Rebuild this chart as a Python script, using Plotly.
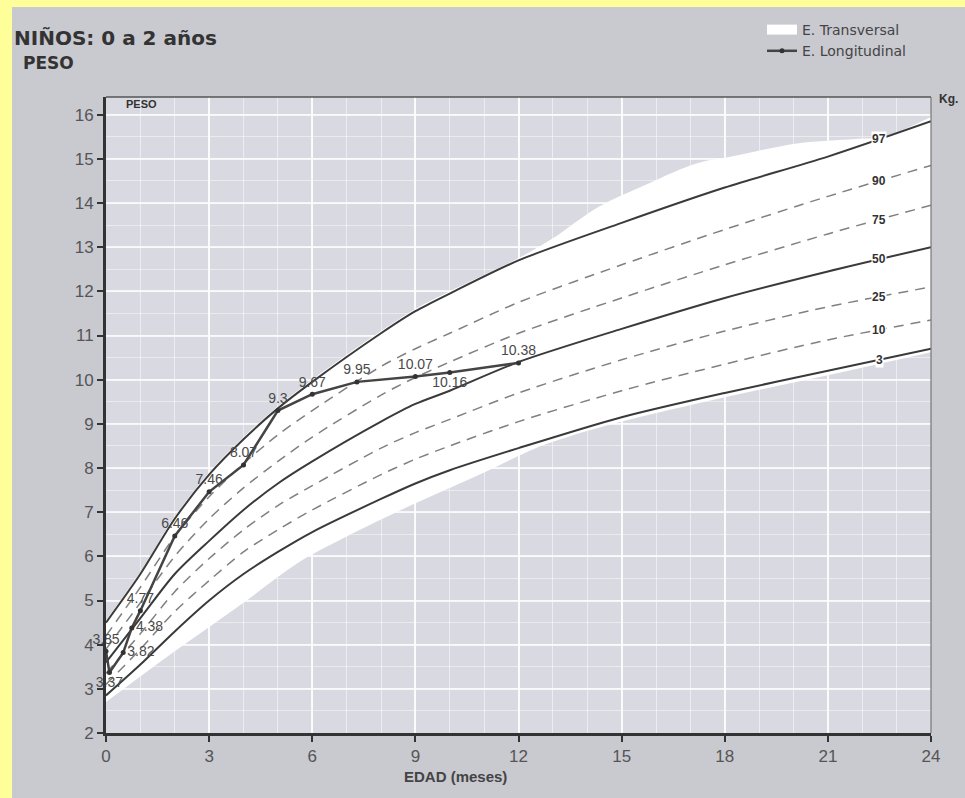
import numpy as np
import plotly.graph_objects as go

# ---------------- data ----------------
months = [0, 1, 2, 3, 4, 5, 6, 8, 9, 10, 12, 15, 18, 21, 24]
p97 = [4.5, 5.6, 6.85, 7.85, 8.65, 9.35, 9.95, 11.05, 11.55, 11.95, 12.7, 13.55, 14.35, 15.05, 15.85]
p90 = [4.2, 5.3, 6.45, 7.35, 8.1, 8.75, 9.3, 10.3, 10.7, 11.05, 11.75, 12.6, 13.4, 14.15, 14.85]
p75 = [3.9, 4.95, 6.0, 6.85, 7.55, 8.15, 8.7, 9.65, 10.05, 10.4, 11.05, 11.85, 12.6, 13.3, 13.95]
p50 = [3.6, 4.6, 5.6, 6.35, 7.05, 7.65, 8.15, 9.05, 9.45, 9.75, 10.4, 11.15, 11.85, 12.45, 13.0]
p25 = [3.35, 4.25, 5.2, 5.95, 6.6, 7.15, 7.6, 8.45, 8.8, 9.1, 9.7, 10.45, 11.1, 11.65, 12.1]
p10 = [3.1, 3.9, 4.75, 5.45, 6.1, 6.6, 7.05, 7.85, 8.2, 8.5, 9.05, 9.75, 10.35, 10.9, 11.35]
p3 = [2.85, 3.55, 4.3, 5.0, 5.6, 6.1, 6.55, 7.3, 7.65, 7.95, 8.45, 9.15, 9.7, 10.2, 10.7]
pct_labels = ["97", "90", "75", "50", "25", "10", "3"]

# E. Transversal band (white area)
band_up_x = [0, 1, 2, 3, 4, 5, 6, 8, 9, 10, 12, 13, 14.3, 15.8, 17.2, 18.2, 20.1, 21.8, 22.6, 24]
band_up_y = [4.55, 5.65, 6.9, 7.9, 8.7, 9.4, 10.0, 11.1, 11.6, 12.0, 12.75, 13.2, 13.9, 14.45, 14.9, 15.05, 15.35, 15.45, 15.5, 15.95]
band_lo_x = [0, 2, 4, 5.6, 7, 9, 11, 12.5, 13.5, 15, 18, 21, 24]
band_lo_y = [2.7, 3.85, 4.95, 5.86, 6.45, 7.2, 7.9, 8.45, 8.72, 9.05, 9.6, 10.1, 10.62]

# E. Longitudinal
long_x = [0, 0.1, 0.5, 0.75, 1, 2, 3, 4, 5, 6, 7.3, 9, 10, 12]
long_y = [3.85, 3.37, 3.82, 4.38, 4.77, 6.46, 7.46, 8.07, 9.3, 9.67, 9.95, 10.07, 10.16, 10.38]
long_txt = ["3.85", "3.37", "3.82", "4.38", "4.77", "6.46", "7.46", "8.07", "9.3", "9.67", "9.95", "10.07", "10.16", "10.38"]
long_pos = ["top center", "bottom center", "middle right", "middle right", "top center",
            "top center", "top center", "top center", "top center", "top center",
            "top center", "top center", "bottom center", "top center"]

x_ticks = [0, 3, 6, 9, 12, 15, 18, 21, 24]
y_ticks = list(range(2, 17))

# ---------------- layout helpers ----------------
W, H = 965, 798
L, R, T, B = 106, 34, 97, 65
def px2x(px):
    return (px - L) / (W - L - R)
def py2y(py):
    return (H - B - py) / (H - T - B)

FONT = "Liberation Sans Narrow, Arial Narrow, Liberation Sans, Arial, sans-serif"
BOLD = "Liberation Sans, Arial, sans-serif"
WIDE = "DejaVu Sans, Liberation Sans, Arial, sans-serif"

fig = go.Figure()

# band
fig.add_trace(go.Scatter(x=band_lo_x, y=band_lo_y, mode="lines", line=dict(width=0, color="white", shape="spline"),
                         showlegend=False, hoverinfo="skip"))
fig.add_trace(go.Scatter(x=band_up_x, y=band_up_y, mode="lines", line=dict(width=0, color="white", shape="spline"),
                         fill="tonexty", fillcolor="#ffffff", name="E. Transversal", showlegend=False,
                         hoverinfo="skip"))
# legend entry for the band
fig.add_trace(go.Scatter(x=[None], y=[None], mode="lines", name="E. Transversal", legendrank=1,
                         line=dict(color="#ffffff", width=13)))

# percentile curves
pcts = [p97, p90, p75, p50, p25, p10, p3]
for lab, vals in zip(pct_labels, pcts):
    solid = lab in ("97", "50", "3")
    fig.add_trace(go.Scatter(
        x=months, y=vals, mode="lines", showlegend=False, hoverinfo="skip",
        line=dict(color="#3a3a3a" if solid else "#808080", width=2 if solid else 1.5,
                  dash="solid" if solid else "10px,7px", shape="spline", smoothing=0.8)))

# longitudinal
fig.add_trace(go.Scatter(
    x=long_x, y=long_y, mode="lines+markers+text", name="E. Longitudinal", legendrank=2,
    line=dict(color="#444444", width=2.5),
    marker=dict(size=5, color="#333333"),
    text=long_txt, textposition=long_pos, cliponaxis=False,
    textfont=dict(family=FONT, size=14, color="#4a4a4a")))

annotations = []
# percentile labels on the right
xl = 22.5
for lab, vals in zip(pct_labels, pcts):
    yv = float(np.interp(xl, months, vals))
    annotations.append(dict(x=xl, y=yv, xref="x", yref="y", text="<b>%s</b>" % lab, showarrow=False,
                            font=dict(family=BOLD, size=12, color="#333333"),
                            bgcolor="#ffffff", borderpad=0))

annotations += [
    dict(x=px2x(12), y=py2y(38), xref="paper", yref="paper", xanchor="left", yanchor="middle",
         text="<b>NIÑOS: 0 a 2 años</b>", showarrow=False, font=dict(family=WIDE, size=20, color="#333333")),
    dict(x=px2x(21), y=py2y(63), xref="paper", yref="paper", xanchor="left", yanchor="middle",
         text="<b>PESO</b>", showarrow=False, font=dict(family=WIDE, size=17, color="#333333")),
    dict(x=px2x(124), y=py2y(104), xref="paper", yref="paper", xanchor="left", yanchor="middle",
         text="<b>PESO</b>", showarrow=False, font=dict(family=BOLD, size=11, color="#333333")),
    dict(x=px2x(937), y=py2y(99), xref="paper", yref="paper", xanchor="left", yanchor="middle",
         text="<b>Kg.</b>", showarrow=False, font=dict(family=BOLD, size=12, color="#333333")),
    dict(x=px2x(455), y=py2y(776), xref="paper", yref="paper", xanchor="center", yanchor="middle",
         text="<b>EDAD (meses)</b>", showarrow=False, font=dict(family=BOLD, size=15, color="#444444")),
]

shapes = [
    # outer grey page (leaves yellow strips top & left)
    dict(type="rect", xref="paper", yref="paper", x0=px2x(12), x1=px2x(W + 5), y0=py2y(H + 5), y1=py2y(7),
         fillcolor="#c9c9d0", line=dict(width=0), layer="below"),
    # plot area
    dict(type="rect", xref="paper", yref="paper", x0=0, x1=1, y0=0, y1=1,
         fillcolor="#d9d9e2", line=dict(width=0), layer="below"),
    # thin top & right frame
    dict(type="line", xref="paper", yref="paper", x0=0, x1=1, y0=1, y1=1, line=dict(color="#555555", width=1.5)),
    dict(type="line", xref="paper", yref="paper", x0=1, x1=1, y0=0, y1=1, line=dict(color="#777777", width=1.2)),
]

fig.update_layout(
    width=W, height=H,
    margin=dict(l=L, r=R, t=T, b=B),
    paper_bgcolor="#ffff99", plot_bgcolor="rgba(0,0,0,0)",
    annotations=annotations, shapes=shapes,
    legend=dict(x=px2x(762), y=py2y(14), xanchor="left", yanchor="top", bgcolor="rgba(0,0,0,0)",
                traceorder="normal",
                font=dict(family=WIDE, size=14, color="#444444"), itemwidth=30, tracegroupgap=0),
    hovermode=False,
)
fig.update_xaxes(range=[0, 24], tickvals=x_ticks, ticks="outside", ticklen=6, tickwidth=2, tickcolor="#333333",
                 showline=True, linewidth=3, linecolor="#333333",
                 tickfont=dict(family=FONT, size=17, color="#555555"),
                 showgrid=True, gridcolor="rgba(255,255,255,0.85)", gridwidth=2,
                 minor=dict(dtick=1, showgrid=True, gridcolor="rgba(255,255,255,0.5)", gridwidth=1),
                 zeroline=False)
fig.update_yaxes(range=[2, 16.4], tickvals=y_ticks, ticks="outside", ticklen=6, tickwidth=2, tickcolor="#333333",
                 showline=True, linewidth=3, linecolor="#333333",
                 tickfont=dict(family=FONT, size=17, color="#555555"),
                 showgrid=True, gridcolor="rgba(255,255,255,0.75)", gridwidth=1.5,
                 minor=dict(dtick=0.5, showgrid=True, gridcolor="rgba(255,255,255,0.45)", gridwidth=1),
                 zeroline=False)

fig.write_html("out.html", config={"displayModeBar": False},
               post_script="document.body.style.margin='0';document.body.style.background='#ffff99';"
                           "document.body.style.overflow='hidden';")
